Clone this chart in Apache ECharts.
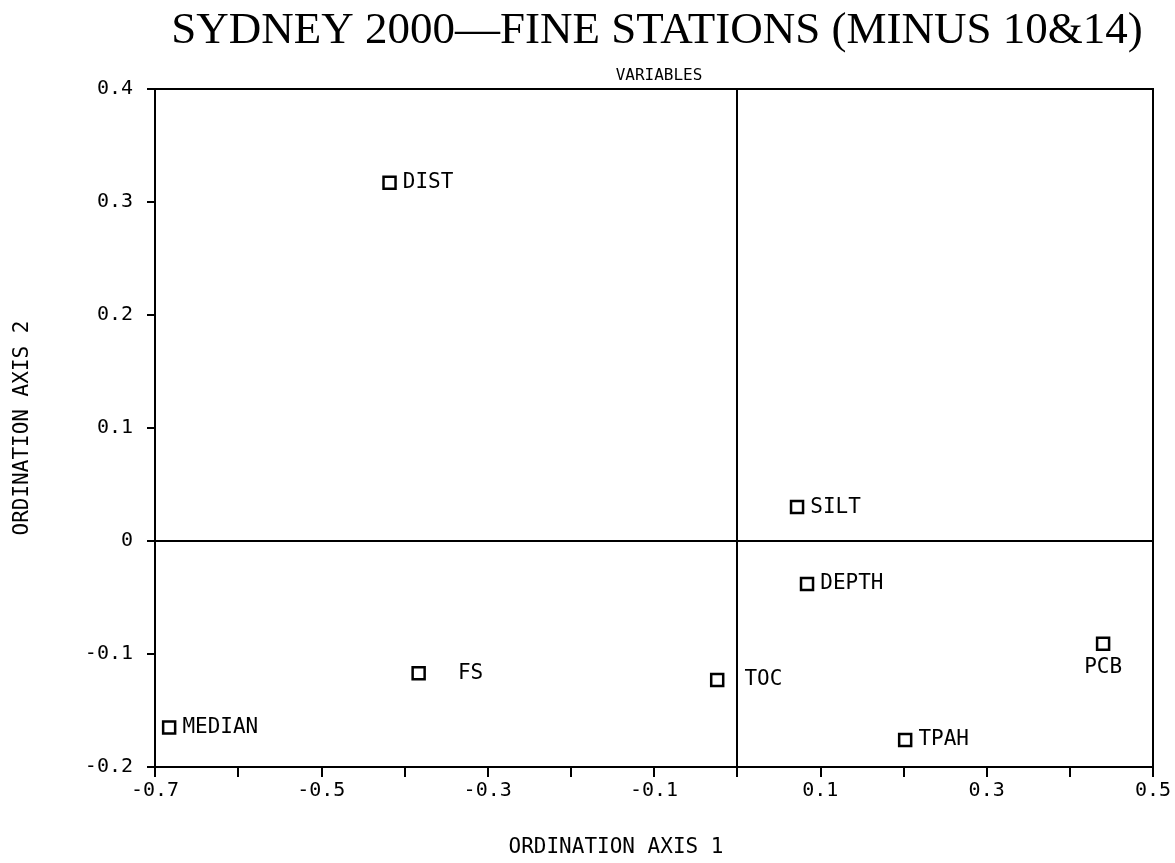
<!DOCTYPE html>
<html>
<head>
<meta charset="utf-8">
<script src="https://cdn.jsdelivr.net/npm/echarts@6/dist/echarts.min.js"></script>
<style>
  html, body { margin: 0; padding: 0; background: #fff; overflow: hidden; }
  #chart { width: 1175px; height: 863px; }
</style>
</head>
<body>
<div id="chart"></div>
<script>
// ordination scores
const varNames = ['DIST', 'SILT', 'DEPTH', 'PCB', 'TOC', 'FS', 'TPAH', 'MEDIAN'];
const axis1 = [-0.418, 0.072, 0.084, 0.440, -0.024, -0.383, 0.202, -0.683];
const axis2 = [0.317, 0.030, -0.038, -0.091, -0.123, -0.117, -0.176, -0.165];

// where each label sits relative to its square
const labelPlace = {
    PCB: { position: 'bottom', distance: 6 },
    FS: { position: 'right', distance: 32 },
    TOC: { position: 'right', distance: 20 }
};

const mono = 'DejaVu Sans Mono';
const chart = echarts.init(document.getElementById('chart'));

const pts = varNames.map((n, i) => {
    const p = labelPlace[n] || { position: 'right', distance: 6 };
    return {
        name: n,
        value: [axis1[i], axis2[i]],
        label: { show: true, formatter: n, position: p.position, distance: p.distance }
    };
});

const option = {
    backgroundColor: '#fff',
    animation: false,
    title: [{
        text: 'SYDNEY 2000\u2014FINE STATIONS (MINUS 10&14)',
        left: 652, top: 4, textAlign: 'center',
        textStyle: { fontFamily: 'Liberation Serif', fontSize: 45, fontWeight: 'normal', color: '#000' }
    }, {
        text: 'VARIABLES',
        left: 654, top: 63, textAlign: 'center',
        textStyle: { fontFamily: mono, fontSize: 16, fontWeight: 'normal', color: '#000' }
    }],
    grid: {
        left: 155, right: 22, top: 89, bottom: 96,
        outerBoundsMode: 'none',
        show: true, borderColor: '#000', borderWidth: 2
    },
    xAxis: {
        type: 'value', min: -0.7, max: 0.5, interval: 0.1,
        name: 'ORDINATION AXIS 1', nameLocation: 'middle', nameGap: 70,
        nameTextStyle: { fontFamily: mono, fontSize: 21, color: '#000', padding: [0, 76, 0, 0] },
        splitLine: { show: false },
        axisLine: { onZero: false, lineStyle: { color: '#000', width: 2 } },
        axisTick: { length: 10, lineStyle: { color: '#000', width: 2 } },
        axisLabel: {
            fontFamily: mono, fontSize: 20, color: '#000', margin: 14,
            formatter: v => {
                const k = Math.round(v * 10);
                return k % 2 === 0 ? '' : (k / 10).toFixed(1);
            }
        }
    },
    yAxis: {
        type: 'value', min: -0.2, max: 0.4, interval: 0.1,
        name: 'ORDINATION AXIS 2', nameLocation: 'middle', nameGap: 122,
        nameTextStyle: { fontFamily: mono, fontSize: 21, color: '#000' },
        splitLine: { show: false },
        axisLine: { onZero: false, lineStyle: { color: '#000', width: 2 } },
        axisTick: { length: 8, lineStyle: { color: '#000', width: 2 } },
        axisLabel: {
            fontFamily: mono, fontSize: 20, color: '#000', margin: 22,
            formatter: v => {
                const k = Math.round(v * 10);
                return k === 0 ? '0' : (k / 10).toFixed(1);
            }
        }
    },
    series: [{
        type: 'scatter',
        symbol: 'rect',
        symbolSize: 12,
        itemStyle: { color: '#fff', borderColor: '#000', borderWidth: 2.5, opacity: 1 },
        label: { fontFamily: mono, fontSize: 21, color: '#000' },
        data: pts,
        markLine: {
            silent: true,
            symbol: 'none',
            label: { show: false },
            lineStyle: { color: '#000', width: 2, type: 'solid' },
            data: [{ xAxis: 0 }, { yAxis: 0 }]
        }
    }]
};

chart.setOption(option);
</script>
</body>
</html>
